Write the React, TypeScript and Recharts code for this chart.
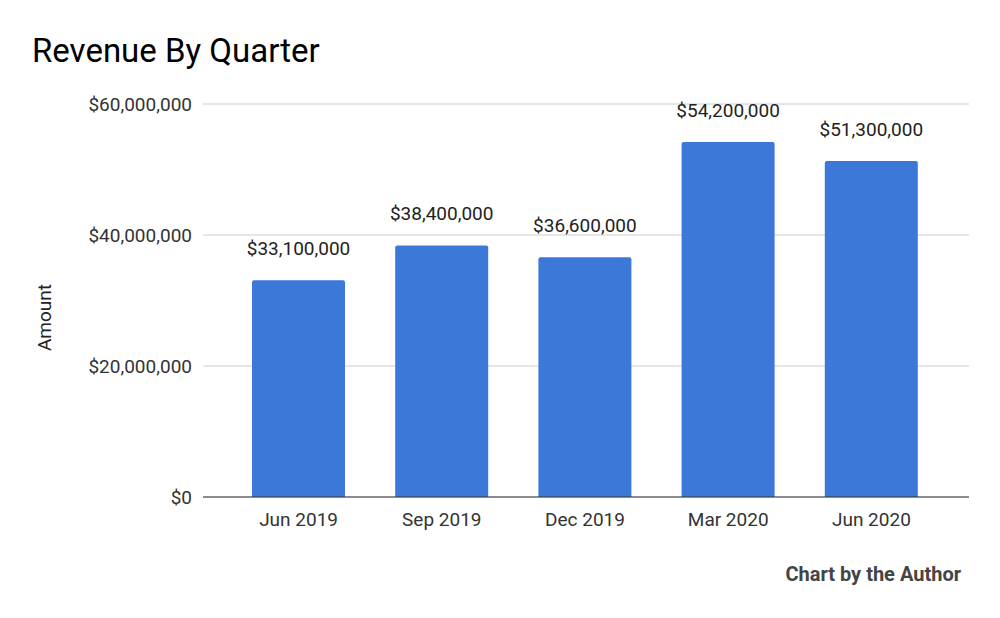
import React from "react";
import { BarChart, Bar, XAxis, YAxis, CartesianGrid, LabelList } from "recharts";

const quarters = ["Jun 2019", "Sep 2019", "Dec 2019", "Mar 2020", "Jun 2020"];
const revenue = [33100000, 38400000, 36600000, 54200000, 51300000];
const yTicks = [0, 20000000, 40000000, 60000000];

const data = quarters.map((q, i) => ({ quarter: q, amount: revenue[i] }));

const fmt = (v: number) => "$" + Number(v).toLocaleString("en-US");
const FONT = "Roboto, 'Noto Sans', sans-serif";

const AmountLabel = (props: any) => {
  const vb = props.viewBox || { x: 0, y: 0, width: 0, height: 0 };
  const cx = 51;
  const cy = vb.y + vb.height / 2 + 17;
  return (
    <text
      x={cx}
      y={cy}
      transform={`rotate(-90, ${cx}, ${cy})`}
      textAnchor="middle"
      fontFamily={FONT}
      fontSize={19}
      fill="#222"
    >
      Amount
    </text>
  );
};

export default function App() {
  return (
    <div
      style={{
        position: "absolute",
        left: 0,
        top: 0,
        width: 1000,
        height: 618,
        background: "#fff",
        fontFamily: FONT,
      }}
    >
      <div
        style={{
          position: "absolute",
          left: 32,
          top: 31,
          fontSize: 33,
          lineHeight: "40px",
          color: "#000",
          fontFamily: FONT,
        }}
      >
        Revenue By Quarter
      </div>
      <BarChart
        width={1000}
        height={618}
        data={data}
        margin={{ top: 104, right: 31, bottom: 81, left: 43 }}
      >
        <CartesianGrid horizontal={true} vertical={false} stroke="#cccccc" />
        <XAxis
          dataKey="quarter"
          padding={{ left: 24, right: 26 }}
          tickLine={false}
          tickSize={0}
          tickMargin={16}
          axisLine={{ stroke: "#333", strokeWidth: 1 }}
          tick={{ fontSize: 19, fill: "#333", fontFamily: FONT }}
          height={40}
        />
        <YAxis
          width={160}
          domain={[0, 60000000]}
          ticks={yTicks}
          tickFormatter={fmt}
          tickLine={false}
          axisLine={false}
          tickSize={0}
          tickMargin={11}
          tick={{ fontSize: 19, fill: "#333", fontFamily: FONT }}
          label={<AmountLabel />}
        />
        <Bar
          dataKey="amount"
          fill="#3c78d8"
          barSize={93}
          radius={[2, 2, 0, 0]}
          isAnimationActive={false}
        >
          <LabelList
            dataKey="amount"
            position="top"
            offset={25}
            formatter={fmt}
            style={{ fontSize: 19, fill: "#222", fontFamily: FONT }}
          />
        </Bar>
      </BarChart>
      <div
        style={{
          position: "absolute",
          right: 39,
          top: 562,
          fontSize: 20,
          fontWeight: "bold",
          lineHeight: "24px",
          color: "#444",
          fontFamily: FONT,
        }}
      >
        Chart by the Author
      </div>
    </div>
  );
}
